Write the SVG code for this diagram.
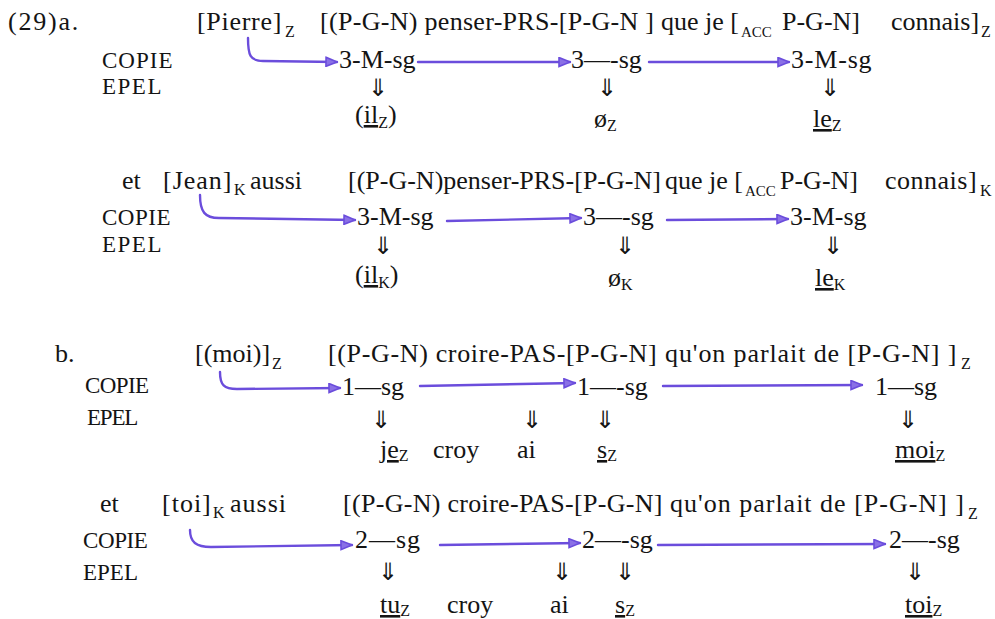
<svg xmlns="http://www.w3.org/2000/svg" width="995" height="619" viewBox="0 0 995 619">
<style>
text{font-family:"Liberation Serif","Times New Roman",serif;font-size:26px;fill:#141414}
.s{font-size:16px}
.sa{font-size:15px}
.lab{font-size:23px}
.dn{font-family:"DejaVu Sans",sans-serif;font-size:24px;font-weight:200;text-anchor:middle}
.u{text-decoration:underline}
.c{fill:none;stroke:#6b4ddc;stroke-width:2.4;stroke-linecap:round;marker-end:url(#ah)}
</style>
<defs>
<marker id="ah" markerUnits="userSpaceOnUse" markerWidth="13" markerHeight="11" refX="12" refY="5.5" orient="auto">
<path d="M1,1 L12,5.5 L1,10 Z" fill="#8a70e6" stroke="#6b4ddc" stroke-width="1.6"/>
</marker>
</defs>
<rect width="995" height="619" fill="#fff"/>

<g id="rowA1">
<g id="a1-head"><text x="8" y="30" style="letter-spacing:1.8px">(29)a.</text></g>
<g id="a1-src"><text x="197" y="30"><tspan style="letter-spacing:0.7px">[Pierre]</tspan><tspan class="s" x="285" dy="7">Z</tspan></text></g>
<g id="a1-clause"><text y="30"><tspan x="320" style="letter-spacing:0.3px">[(P-G-N) penser-PRS-[P-G-N ]</tspan><tspan x="661">que je [</tspan><tspan class="sa" x="741" dy="7">ACC</tspan><tspan x="782" dy="-7">P-G-N]</tspan><tspan x="891">connais]</tspan><tspan class="s" x="981" dy="7">Z</tspan></text></g>
<g id="a1-labels"><text class="lab" x="102" y="68" style="letter-spacing:1px">COPIE</text><text class="lab" x="102" y="94" style="letter-spacing:1.5px">EPEL</text></g>
<g id="a1-f1"><text x="339" y="68">3-M-sg</text><text class="dn" x="378" y="96">⇓</text><text x="355" y="123">(<tspan class="u">il</tspan><tspan class="s" dy="5">Z</tspan><tspan dy="-5">)</tspan></text></g>
<g id="a1-f2"><text x="571" y="68">3—-sg</text><text class="dn" x="607" y="96">⇓</text><text x="594" y="127">ø<tspan class="s" dy="4">Z</tspan></text></g>
<g id="a1-f3"><text x="791" y="68" style="letter-spacing:0.8px">3-M-sg</text><text class="dn" x="830" y="96">⇓</text><text x="813" y="127"><tspan class="u">le</tspan><tspan class="s" dy="4">Z</tspan></text></g>
</g>

<g id="rowA2">
<g id="a2-src"><text x="122" y="189">et</text><text x="163" y="189"><tspan style="letter-spacing:1px">[Jean]</tspan><tspan class="s" x="234" dy="6">K</tspan><tspan x="250" dy="-6">aussi</tspan></text></g>
<g id="a2-clause"><text y="189"><tspan x="348">[(P-G-N)penser-PRS-[P-G-N]</tspan><tspan x="665">que je [</tspan><tspan class="sa" x="745" dy="7">ACC</tspan><tspan x="780" dy="-7">P-G-N]</tspan><tspan x="885" style="letter-spacing:0.5px">connais]</tspan><tspan class="s" x="980" dy="7">K</tspan></text></g>
<g id="a2-labels"><text class="lab" x="102" y="225" style="letter-spacing:0.5px">COPIE</text><text class="lab" x="102" y="252" style="letter-spacing:1.5px">EPEL</text></g>
<g id="a2-f1"><text x="357" y="225">3-M-sg</text><text class="dn" x="383" y="254">⇓</text><text x="355" y="283">(<tspan class="u">il</tspan><tspan class="s" dy="5">K</tspan><tspan dy="-5">)</tspan></text></g>
<g id="a2-f2"><text x="583" y="225">3—-sg</text><text class="dn" x="625" y="254">⇓</text><text x="608" y="286">ø<tspan class="s" dy="4">K</tspan></text></g>
<g id="a2-f3"><text x="790" y="225">3-M-sg</text><text class="dn" x="833" y="254">⇓</text><text x="815" y="286"><tspan class="u">le</tspan><tspan class="s" dy="4">K</tspan></text></g>
</g>

<g id="rowB1">
<g id="b1-head"><text x="55" y="362">b.</text></g>
<g id="b1-src"><text x="195" y="362"><tspan>[(moi)]</tspan><tspan class="s" x="272" dy="7">Z</tspan></text></g>
<g id="b1-clause"><text y="362"><tspan x="328" style="letter-spacing:0.65px">[(P-G-N) croire-PAS-[P-G-N]</tspan><tspan x="665" style="letter-spacing:0.9px">qu'on parlait de [P-G-N] ]</tspan><tspan class="s" x="961" dy="7">Z</tspan></text></g>
<g id="b1-labels"><text class="lab" x="85" y="393" style="letter-spacing:-0.6px">COPIE</text><text class="lab" x="87" y="425" style="letter-spacing:-1.2px">EPEL</text></g>
<g id="b1-f1"><text x="342" y="395">1—sg</text><text class="dn" x="381" y="428">⇓</text><text x="380" y="458"><tspan class="u">je</tspan><tspan class="s" dy="3">Z</tspan></text></g>
<g id="b1-verb"><text x="433" y="458">croy</text><text class="dn" x="532" y="428">⇓</text><text x="517" y="458">ai</text></g>
<g id="b1-f2"><text x="577" y="395">1—-sg</text><text class="dn" x="605" y="428">⇓</text><text x="597" y="458"><tspan class="u">s</tspan><tspan class="s" dy="3">Z</tspan></text></g>
<g id="b1-f3"><text x="875" y="395">1—sg</text><text class="dn" x="908" y="428">⇓</text><text x="895" y="458"><tspan class="u">moi</tspan><tspan class="s" dy="3">Z</tspan></text></g>
</g>

<g id="rowB2">
<g id="b2-src"><text x="100" y="512">et</text><text x="162" y="512"><tspan style="letter-spacing:1px">[toi]</tspan><tspan class="s" x="213" dy="6">K</tspan><tspan x="230" dy="-6" style="letter-spacing:1px">aussi</tspan></text></g>
<g id="b2-clause"><text y="512"><tspan x="343" style="letter-spacing:0.3px">[(P-G-N) croire-PAS-[P-G-N]</tspan><tspan x="670" style="letter-spacing:1px">qu'on parlait de [P-G-N] ]</tspan><tspan class="s" x="968" dy="7">Z</tspan></text></g>
<g id="b2-labels"><text class="lab" x="83" y="548" style="letter-spacing:-0.4px">COPIE</text><text class="lab" x="83" y="580">EPEL</text></g>
<g id="b2-f1"><text x="355" y="548" style="letter-spacing:1px">2—sg</text><text class="dn" x="388" y="580">⇓</text><text x="380" y="613"><tspan class="u">tu</tspan><tspan class="s" dy="3">Z</tspan></text></g>
<g id="b2-verb"><text x="447" y="613">croy</text><text class="dn" x="562" y="580">⇓</text><text x="550" y="613">ai</text></g>
<g id="b2-f2"><text x="582" y="548">2—-sg</text><text class="dn" x="625" y="580">⇓</text><text x="615" y="613"><tspan class="u">s</tspan><tspan class="s" dy="3">Z</tspan></text></g>
<g id="b2-f3"><text x="889" y="548">2—-sg</text><text class="dn" x="915" y="580">⇓</text><text x="905" y="613"><tspan class="u">toi</tspan><tspan class="s" dy="3">Z</tspan></text></g>
</g>

<g id="connectors">
<path class="c" d="M248,38 C248,55 250,61 263,61 L337,62"/>
<path class="c" d="M418,62 L570,62"/>
<path class="c" d="M649,62 L789,62"/>
<path class="c" d="M200,195 C200,212 205,218 219,218 L355,220"/>
<path class="c" d="M447,221 L581,218"/>
<path class="c" d="M667,220 L788,219"/>
<path class="c" d="M220,372 C220,385 224,389 237,389 L340,388"/>
<path class="c" d="M420,386 L575,383"/>
<path class="c" d="M663,386 L862,385"/>
<path class="c" d="M190,530 C190,542 196,547 211,547 L352,545"/>
<path class="c" d="M440,545 L580,543"/>
<path class="c" d="M658,545 L885,544"/>
</g>
</svg>
